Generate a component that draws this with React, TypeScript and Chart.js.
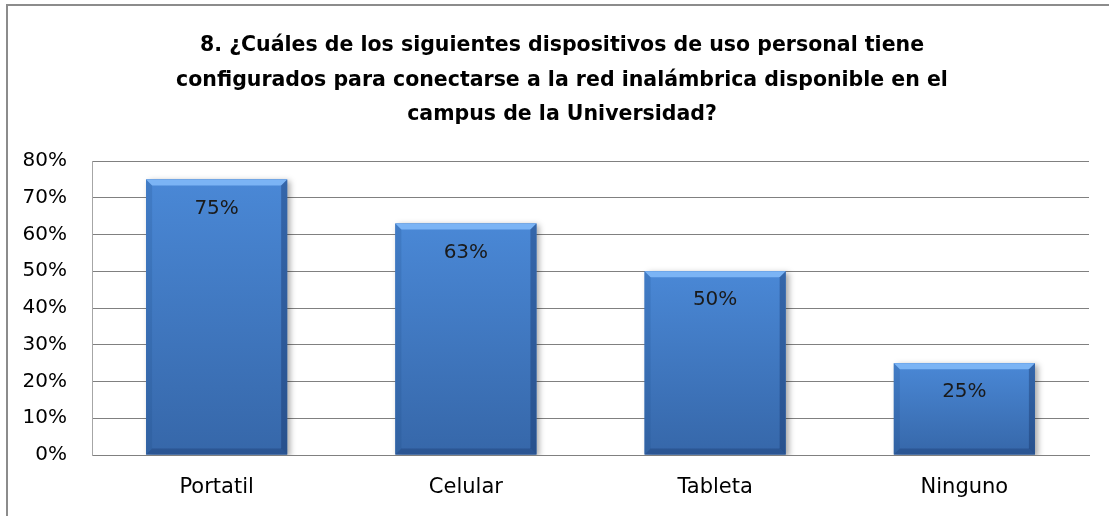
import React, { useEffect, useRef } from "react";
import { Chart, registerables } from "chart.js";

Chart.register(...registerables);

const titleLines = [
  "8. ¿Cuáles de los siguientes dispositivos de uso personal tiene",
  "configurados para conectarse a la red inalámbrica disponible en el",
  "campus de la Universidad?",
];
const categories = ["Portatil", "Celular", "Tableta", "Ninguno"];
const values = [75, 63, 50, 25];
const yTicks = [0, 10, 20, 30, 40, 50, 60, 70, 80];

const framePlugin = {
  id: "frame",
  beforeDraw(chart: any) {
    const ctx = chart.ctx;
    ctx.save();
    ctx.fillStyle = "#ffffff";
    ctx.fillRect(0, 0, chart.width, chart.height);
    ctx.strokeStyle = "#8c8c8c";
    ctx.lineWidth = 2;
    ctx.beginPath();
    ctx.moveTo(7, chart.height);
    ctx.lineTo(7, 5);
    ctx.lineTo(chart.width, 5);
    ctx.stroke();
    ctx.restore();
  },
  beforeDatasetDraw(chart: any) {
    const ctx = chart.ctx;
    ctx.save();
    ctx.shadowColor = "rgba(0,0,0,0.35)";
    ctx.shadowBlur = 6;
    ctx.shadowOffsetX = 3;
    ctx.shadowOffsetY = 2;
  },
  afterDatasetDraw(chart: any) {
    chart.ctx.restore();
  },
  afterDatasetsDraw(chart: any) {
    const ctx = chart.ctx;
    const meta = chart.getDatasetMeta(0);
    meta.data.forEach((bar: any, i: number) => {
      const p = bar.getProps(["x", "y", "base", "width"], true);
      const l = p.x - p.width / 2;
      const r = p.x + p.width / 2;
      const t = p.y;
      const b = p.base;
      const bv = 6;
      ctx.save();
      const g = ctx.createLinearGradient(0, t, 0, b);
      g.addColorStop(0, "#4a88d6");
      g.addColorStop(1, "#3667a9");
      ctx.fillStyle = g;
      ctx.fillRect(l, t, r - l, b - t);
      // top bevel
      ctx.fillStyle = "rgba(140,195,255,0.75)";
      ctx.beginPath();
      ctx.moveTo(l, t);
      ctx.lineTo(r, t);
      ctx.lineTo(r - bv, t + bv);
      ctx.lineTo(l + bv, t + bv);
      ctx.closePath();
      ctx.fill();
      // left bevel
      ctx.fillStyle = "rgba(30,70,130,0.18)";
      ctx.beginPath();
      ctx.moveTo(l, t);
      ctx.lineTo(l + bv, t + bv);
      ctx.lineTo(l + bv, b - bv);
      ctx.lineTo(l, b);
      ctx.closePath();
      ctx.fill();
      // right bevel
      ctx.fillStyle = "rgba(15,40,90,0.35)";
      ctx.beginPath();
      ctx.moveTo(r, t);
      ctx.lineTo(r - bv, t + bv);
      ctx.lineTo(r - bv, b - bv);
      ctx.lineTo(r, b);
      ctx.closePath();
      ctx.fill();
      // bottom bevel
      ctx.fillStyle = "rgba(15,40,90,0.28)";
      ctx.beginPath();
      ctx.moveTo(l, b);
      ctx.lineTo(r, b);
      ctx.lineTo(r - bv, b - bv);
      ctx.lineTo(l + bv, b - bv);
      ctx.closePath();
      ctx.fill();
      // label
      ctx.fillStyle = "#1a1a1a";
      ctx.font = '20px "DejaVu Sans"';
      ctx.textAlign = "center";
      ctx.textBaseline = "middle";
      ctx.fillText(Math.round(values[i]) + "%", p.x, t + 29);
      ctx.restore();
    });
  },
  afterDraw(chart: any) {
    const ctx = chart.ctx;
    ctx.save();
    ctx.fillStyle = "#000000";
    ctx.font = 'bold 20.5px "DejaVu Sans"';
    ctx.textAlign = "center";
    ctx.textBaseline = "middle";
    const ys = [46, 80.5, 115];
    titleLines.forEach((line, i) => ctx.fillText(line, 562, ys[i]));
    ctx.restore();
  },
};

export default function App() {
  const ref = useRef<HTMLCanvasElement>(null);
  useEffect(() => {
    if (!ref.current) return;
    const chart = new Chart(ref.current, {
      type: "bar",
      data: {
        labels: categories,
        datasets: [
          {
            data: values,
            backgroundColor: "#4079c2",
            borderWidth: 0,
            categoryPercentage: 1,
            barPercentage: 0.566,
          },
        ],
      },
      options: {
        animation: false,
        responsive: false,
        devicePixelRatio: 1,
        layout: { padding: { top: 161, left: 0, right: 20, bottom: 0 } },
        plugins: {
          legend: { display: false },
          title: { display: false },
          tooltip: { enabled: false },
        },
        scales: {
          x: {
            grid: { display: false, drawTicks: false, tickLength: 0 },
            border: { display: true, color: "#808080", width: 1 },
            ticks: {
              padding: 20,
              color: "#000000",
              font: { family: "DejaVu Sans", size: 21 },
            },
            afterFit(scale: any) {
              scale.height = 61;
            },
          },
          y: {
            min: 0,
            max: 80,
            afterBuildTicks(scale: any) {
              scale.ticks = yTicks.map((v) => ({ value: v }));
            },
            grid: { color: "#808080", lineWidth: 1, drawTicks: false, tickLength: 0 },
            border: { display: true, color: "#a6a6a6", width: 1 },
            ticks: {
              padding: 25,
              color: "#000000",
              font: { family: "DejaVu Sans", size: 20 },
              callback: (v: any) => v + "%",
            },
            afterFit(scale: any) {
              scale.width = 92;
            },
          },
        },
      },
      plugins: [framePlugin],
    });
    return () => chart.destroy();
  }, []);
  return (
    <div style={{ position: "absolute", left: 0, top: 0, width: 1109, height: 516 }}>
      <canvas ref={ref} width={1109} height={516} />
    </div>
  );
}
